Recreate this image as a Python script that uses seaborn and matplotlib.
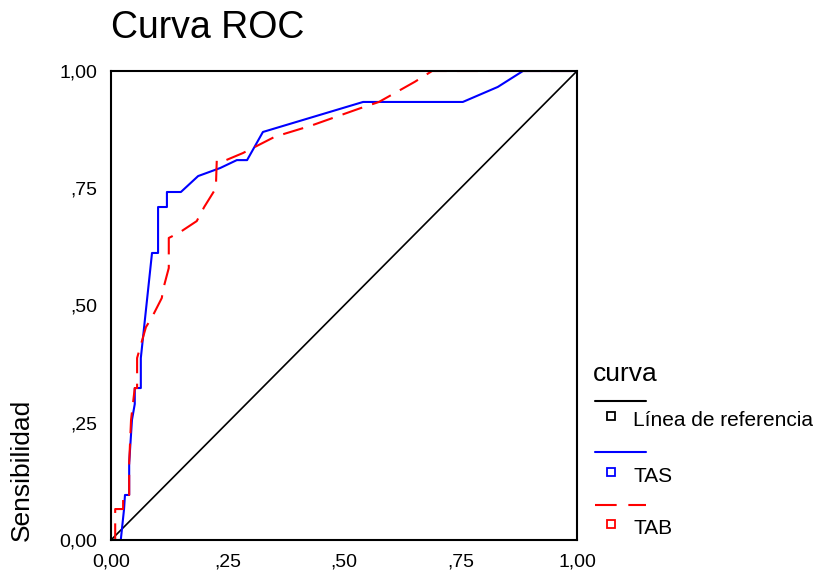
import numpy as np
import pandas as pd
import matplotlib
matplotlib.use("Agg")
import matplotlib.pyplot as plt
from matplotlib.lines import Line2D
import seaborn as sns

# curva ROC
ref_fpr = [0.0, 1.0]
ref_tpr = [0.0, 1.0]

tas_fpr = [0.0, 0.021, 0.028, 0.030, 0.039, 0.039, 0.045, 0.051, 0.051, 0.064, 0.064,
           0.088, 0.101, 0.101, 0.120, 0.120, 0.150, 0.187, 0.234, 0.270, 0.292,
           0.326, 0.541, 0.755, 0.830, 0.884, 1.0]
tas_tpr = [0.0, 0.0, 0.066, 0.096, 0.096, 0.164, 0.256, 0.290, 0.324, 0.324, 0.388,
           0.612, 0.612, 0.710, 0.710, 0.742, 0.742, 0.776, 0.793, 0.810, 0.810,
           0.870, 0.934, 0.934, 0.966, 1.0, 1.0]

tab_fpr = [0.0, 0.009, 0.009, 0.026, 0.026, 0.039, 0.039, 0.043, 0.051, 0.056,
           0.056, 0.075, 0.088, 0.109, 0.112, 0.124, 0.124, 0.146, 0.184, 0.200,
           0.225, 0.227, 0.247, 0.283, 0.352, 0.428, 0.536, 0.575, 0.652, 0.689, 1.0]
tab_tpr = [0.0, 0.0, 0.066, 0.066, 0.096, 0.096, 0.164, 0.256, 0.324, 0.324,
           0.388, 0.454, 0.475, 0.516, 0.535, 0.580, 0.644, 0.655, 0.680, 0.710,
           0.750, 0.810, 0.810, 0.825, 0.860, 0.883, 0.921, 0.934, 0.977, 1.0, 1.0]

curvas = ["Línea de referencia", "TAS", "TAB"]
colores = {"Línea de referencia": "black", "TAS": "blue", "TAB": "red"}
rayas = {"Línea de referencia": "", "TAS": "", "TAB": (10, 5)}

ticks = [0.0, 0.25, 0.5, 0.75, 1.0]
tick_labels = ["0,00", ",25", ",50", ",75", "1,00"]

df = pd.concat([
    pd.DataFrame({"fpr": ref_fpr, "tpr": ref_tpr, "curva": curvas[0]}),
    pd.DataFrame({"fpr": tas_fpr, "tpr": tas_tpr, "curva": curvas[1]}),
    pd.DataFrame({"fpr": tab_fpr, "tpr": tab_tpr, "curva": curvas[2]}),
], ignore_index=True)

sns.set_style("white")
plt.rcParams["font.family"] = ["Liberation Sans", "DejaVu Sans"]
plt.rcParams["text.color"] = "black"
plt.rcParams["xtick.labelcolor"] = "black"
plt.rcParams["ytick.labelcolor"] = "black"

W, H = 816, 577
fig = plt.figure(figsize=(W / 100, H / 100), dpi=100)
ax = fig.add_axes([111 / W, 1 - 540 / H, 466 / W, 469 / H])

for c in curvas:
    d = df[df["curva"] == c]
    sns.lineplot(data=d, x="fpr", y="tpr", ax=ax, sort=False, estimator=None,
                 color=colores[c], lw=1.2 if c == curvas[0] else 1.5,
                 dashes=False, legend=False)
    if rayas[c]:
        ax.lines[-1].set_dashes(rayas[c])

ax.set_xlim(0, 1)
ax.set_ylim(0, 1)
ax.set_xticks(ticks)
ax.set_xticklabels(tick_labels)
ax.set_yticks(ticks)
ax.set_yticklabels(tick_labels)
ax.tick_params(axis="both", direction="out", length=4, width=3, color="black",
               labelsize=14, labelcolor="black", pad=6)
for s in ax.spines.values():
    s.set_visible(True)
    s.set_color("black")
    s.set_linewidth(1.5)
ax.set_xlabel("")
ax.set_ylabel("")


def fy(y):
    return 1 - y / H


fig.text(22 / W, fy(470), "Sensibilidad", fontsize=19, rotation=90,
         va="center", ha="center", color="black")
fig.text(111 / W, fy(28), "Curva ROC", fontsize=27, va="center", ha="left",
         color="black")

# leyenda manual
fig.text(593 / W, fy(374), "curva", fontsize=19, va="center", ha="left")
filas = [(401, 421), (452, 477), (505, 529)]
for c, (yl, yt) in zip(curvas, filas):
    ln = Line2D([595 / W, 646 / W], [fy(yl), fy(yl)], transform=fig.transFigure,
                color=colores[c], lw=1.5)
    if rayas[c]:
        ln.set_dashes((10.4, 5.6))
    fig.add_artist(ln)
    fig.add_artist(Line2D([611 / W], [fy(yt - 5)], transform=fig.transFigure,
                          marker="s", markersize=5.5, markerfacecolor="white",
                          markeredgecolor=colores[c], markeredgewidth=1.3,
                          linestyle="none"))
    fig.text(633 / W, fy(yt), c, fontsize=15, va="center", ha="left")

fig.savefig("out.png", dpi=100)
